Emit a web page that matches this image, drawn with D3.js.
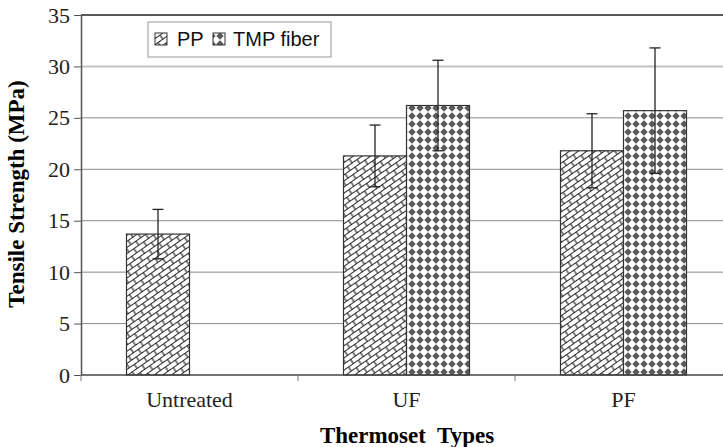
<!DOCTYPE html>
<html lang="en">
<head>
<meta charset="UTF-8">
<script src="https://d3js.org/d3.v7.min.js"></script>
<title>Tensile Strength</title>
<style>
  body { margin: 0; background: #fff; }
  svg { display: block; }
</style>
</head>
<body>
<div id="chart"></div>
<script>
// data
const categories = ["Untreated", "UF", "PF"];
const series = ["PP", "TMP fiber"];
const ppValues = [13.7, 21.3, 21.8];
const ppErrors = [2.4, 3.0, 3.6];
const tmpValues = [null, 26.2, 25.7];
const tmpErrors = [null, 4.4, 6.1];
const yTicks = [0, 5, 10, 15, 20, 25, 30, 35];

const width = 723, height = 447;
const margin = {top: 15, right: -9, bottom: 72, left: 81};
const serif = "Liberation Serif, Times New Roman, serif";

const svg = d3.select("#chart").append("svg")
    .attr("width", width).attr("height", height);

const defs = svg.append("defs");

// diagonal brick fill for PP
const brick = defs.append("pattern").attr("id", "brick")
    .attr("patternUnits", "userSpaceOnUse")
    .attr("width", 12).attr("height", 10)
    .attr("patternTransform", "rotate(-35)");
brick.append("rect").attr("width", 12).attr("height", 10).attr("fill", "#fff");
brick.append("path")
    .attr("d", "M0,0.5H12M0,5.5H12M3,0.5V5.5M9,5.5V10")
    .attr("stroke", "#2a2a2a").attr("stroke-width", 1.2).attr("fill", "none");

// diamond dot fill for TMP fiber
const dots = defs.append("pattern").attr("id", "dots")
    .attr("patternUnits", "userSpaceOnUse")
    .attr("width", 8).attr("height", 8);
dots.append("rect").attr("width", 8).attr("height", 8).attr("fill", "#fff");
dots.append("path")
    .attr("d", "M4,0.3L7.7,4L4,7.7L0.3,4Z")
    .attr("fill", "#5a5a5a");

const x = d3.scaleBand()
    .domain(categories)
    .range([margin.left, width - margin.right]);

const y = d3.scaleLinear()
    .domain([0, 35])
    .range([height - margin.bottom, margin.top]);

const barW = 63;
const sub = d3.scaleBand().domain(series).range([-barW, barW]);

// gridlines
svg.append("g").selectAll("line")
    .data(yTicks.filter(d => d > 0 && d < 35))
    .join("line")
    .attr("x1", margin.left).attr("x2", width)
    .attr("y1", d => y(d)).attr("y2", d => y(d))
    .attr("stroke", d => d === 30 ? "#c4c4c4" : "#8a8a8a")
    .attr("stroke-width", d => d === 30 ? 2 : 1);

// top frame line
svg.append("line")
    .attr("x1", margin.left).attr("x2", width)
    .attr("y1", y(35)).attr("y2", y(35))
    .attr("stroke", "#222").attr("stroke-width", 1.5);

// bars
const bars = [];
categories.forEach((c, i) => {
    if (ppValues[i] != null) bars.push({cat: c, s: "PP", v: ppValues[i], e: ppErrors[i]});
    if (tmpValues[i] != null) bars.push({cat: c, s: "TMP fiber", v: tmpValues[i], e: tmpErrors[i]});
});

const cx = d => x(d.cat) + x.bandwidth() / 2 + sub(d.s);

svg.append("g").selectAll("rect")
    .data(bars)
    .join("rect")
    .attr("x", d => cx(d))
    .attr("y", d => y(d.v))
    .attr("width", sub.bandwidth())
    .attr("height", d => y(0) - y(d.v))
    .attr("fill", d => d.s === "PP" ? "url(#brick)" : "url(#dots)")
    .attr("stroke", "#333").attr("stroke-width", 1.2);

// error bars
const eb = svg.append("g").attr("stroke", "#222").attr("stroke-width", 1.3);
bars.forEach(d => {
    const mx = cx(d) + sub.bandwidth() / 2;
    eb.append("line").attr("x1", mx).attr("x2", mx)
        .attr("y1", y(d.v + d.e)).attr("y2", y(d.v - d.e));
    [d.v + d.e, d.v - d.e].forEach(v => {
        eb.append("line").attr("x1", mx - 5.5).attr("x2", mx + 5.5)
            .attr("y1", y(v)).attr("y2", y(v));
    });
});

// y axis
const yAxis = svg.append("g")
    .attr("transform", `translate(${margin.left},0)`)
    .call(d3.axisLeft(y).tickValues(yTicks).tickSize(7).tickSizeOuter(0).tickPadding(4))
    .attr("font-family", serif).attr("font-size", 22);
yAxis.select(".domain").attr("stroke", "#555").attr("stroke-width", 1.5);
yAxis.selectAll(".tick line").attr("stroke", "#555");
yAxis.selectAll("text").attr("fill", "#222");

// x axis
svg.append("line")
    .attr("x1", margin.left).attr("x2", width)
    .attr("y1", y(0)).attr("y2", y(0))
    .attr("stroke", "#444").attr("stroke-width", 1.5);
svg.append("g").selectAll("line")
    .data(categories)
    .join("line")
    .attr("x1", d => x(d)).attr("x2", d => x(d))
    .attr("y1", y(0)).attr("y2", y(0) + 6)
    .attr("stroke", "#777");

svg.append("g").selectAll("text")
    .data(categories)
    .join("text")
    .attr("x", d => x(d) + x.bandwidth() / 2)
    .attr("y", 407)
    .attr("text-anchor", "middle")
    .attr("font-family", serif)
    .attr("font-size", 22).attr("fill", "#222")
    .text(d => d);

// axis titles
svg.append("text")
    .attr("x", 407).attr("y", 443)
    .attr("text-anchor", "middle")
    .attr("font-family", serif)
    .attr("font-weight", "bold").attr("font-size", 23)
    .attr("xml:space", "preserve")
    .text("Thermoset  Types");

svg.append("text")
    .attr("transform", "translate(24,194) rotate(-90)")
    .attr("text-anchor", "middle")
    .attr("font-family", serif)
    .attr("font-weight", "bold").attr("font-size", 23)
    .text("Tensile Strength (MPa)");

// legend
const lg = svg.append("g");
lg.append("rect")
    .attr("x", 148).attr("y", 22).attr("width", 183).attr("height", 35)
    .attr("fill", "#fff").attr("stroke", "#999");
const legendItems = [
    {name: "PP", fill: "url(#brick)", sx: 155, tx: 177},
    {name: "TMP fiber", fill: "url(#dots)", sx: 213, tx: 233}
];
legendItems.forEach(d => {
    lg.append("rect").attr("x", d.sx).attr("y", 33).attr("width", 12).attr("height", 12)
        .attr("fill", d.fill).attr("stroke", "#333");
    lg.append("text").attr("x", d.tx).attr("y", 46)
        .attr("font-family", "Liberation Sans, Arial, sans-serif")
        .attr("font-size", 20).attr("fill", "#111")
        .text(d.name);
});
</script>
</body>
</html>
